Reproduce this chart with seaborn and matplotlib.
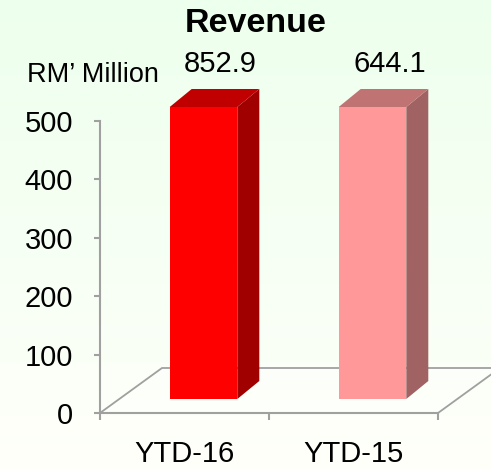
import numpy as np
import pandas as pd
import matplotlib
matplotlib.use("Agg")
import matplotlib.pyplot as plt
import seaborn as sns
from matplotlib.patches import Polygon
from matplotlib.transforms import Affine2D, IdentityTransform

# ---- data ----
categories = ["YTD-16", "YTD-15"]
revenue = [852.9, 644.1]
value_labels = ["852.9", "644.1"]
y_ticks = [0, 100, 200, 300, 400, 500]
title = "Revenue"
unit_label = "RM\u2019 Million"

# ---- style ----
front_colors = ["#FF0000", "#FF9999"]
side_colors = ["#A00000", "#A06262"]
top_colors = ["#C00000", "#C07373"]
grid_gray = "#A0A0A0"

sns.set_theme(style="white")
plt.rcParams['font.family'] = ['Liberation Sans', 'DejaVu Sans']

W, H = 491, 469
fig = plt.figure(figsize=(W / 100, H / 100), dpi=100)

# background gradient
bg = fig.add_axes([0, 0, 1, 1], zorder=-10)
g = np.linspace(0, 1, 256)[:, None, None]
top_c = np.array([0.93, 1.0, 0.93])
bot_c = np.array([1.0, 1.0, 0.98])
img = top_c[None, None, :] * (1 - g) + bot_c[None, None, :] * g
img = np.repeat(img, 2, axis=1)
bg.imshow(img, aspect='auto', extent=[0, 1, 0, 1])
bg.axis('off')

ax = fig.add_axes([100 / W, 56 / H, 338 / W, 292 / H])
ax.set_facecolor('none')
ymax = y_ticks[-1]
df = pd.DataFrame({"cat": categories, "h": np.minimum(revenue, ymax)})
sns.barplot(data=df, x="cat", y="h", hue="cat", palette=front_colors,
            width=0.4, ax=ax, legend=False, saturation=1)
ax.set_xlim(-0.5, 1.5)
ax.set_ylim(0, ymax)
ax.set_xlabel("")
ax.set_ylabel("")
ax.set_yticks(y_ticks)

# depth offsets (pixels)
floor_d = np.array([62.0, 45.0])
bar_shift = np.array([19.0, 14.0])
bar_d = np.array([22.0, 18.0])

T = ax.transData
# floor
fl = T.transform([(-0.5, 0), (1.5, 0)])
floor = Polygon([fl[0], fl[1], fl[1] + floor_d, fl[0] + floor_d], closed=True,
                facecolor=(1, 1, 1, 0.35), edgecolor=grid_gray, lw=1.3,
                transform=IdentityTransform(), clip_on=False, zorder=1)
ax.add_patch(floor)

bars = [p for p in ax.patches if p is not floor][:len(categories)]
for i, p in enumerate(bars):
    x0 = p.get_x(); w = p.get_width(); h = p.get_height()
    p.set_transform(T + Affine2D().translate(*bar_shift))
    p.set_clip_on(False)
    p.set_edgecolor('none')
    p.set_zorder(3)
    bl, br, tr, tl = T.transform([(x0, 0), (x0 + w, 0), (x0 + w, h), (x0, h)]) + bar_shift
    side = Polygon([br, tr, tr + bar_d, br + bar_d], closed=True,
                   facecolor=side_colors[i], edgecolor='none',
                   transform=IdentityTransform(), clip_on=False, zorder=3)
    top = Polygon([tl, tr, tr + bar_d, tl + bar_d], closed=True,
                  facecolor=top_colors[i], edgecolor='none',
                  transform=IdentityTransform(), clip_on=False, zorder=3)
    ax.add_patch(side)
    ax.add_patch(top)
    ax.annotate(value_labels[i], xy=(x0 + w / 2, h), xytext=(36 * 0.72, 49 * 0.72),
                textcoords='offset points', ha='center', va='baseline',
                fontsize=21, color='black', annotation_clip=False)

ax.set_xlim(-0.5, 1.5)
ax.set_ylim(0, ymax)

for s in ['top', 'right']:
    ax.spines[s].set_visible(False)
for s in ['left', 'bottom']:
    ax.spines[s].set_color(grid_gray)
    ax.spines[s].set_linewidth(1.5)

ax.tick_params(axis='y', left=True, length=4.3, width=1.5, color=grid_gray,
               pad=15, labelsize=21, labelcolor='black')
ax.set_xticks([-0.5, 0.5, 1.5], minor=True)
ax.tick_params(axis='x', which='major', length=0, pad=19.5, labelsize=21, labelcolor='black')
ax.tick_params(axis='x', which='minor', bottom=True, length=5, width=1.5, color=grid_gray)

fig.text(256 / W, 1 - 32 / H, title, ha='center', va='baseline',
         fontsize=24.5, fontweight='bold', color='black')
fig.text(93 / W, 1 - 82 / H, unit_label, ha='center', va='baseline',
         fontsize=19.5, color='black')

fig.savefig("out.png", dpi=100)
